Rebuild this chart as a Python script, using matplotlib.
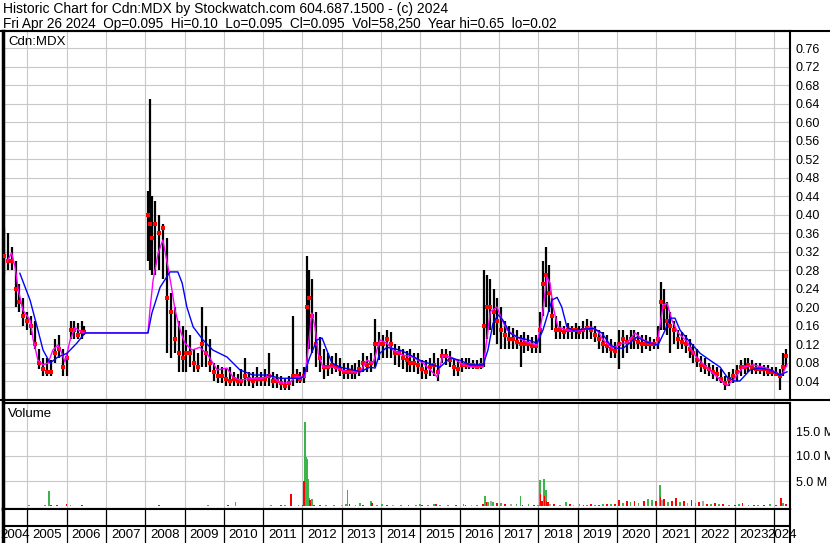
import matplotlib
matplotlib.use("Agg")
import matplotlib.pyplot as plt
from matplotlib.lines import Line2D

plt.rcParams['font.family'] = ['Liberation Sans', 'DejaVu Sans']

header1 = "Historic Chart for Cdn:MDX by Stockwatch.com 604.687.1500 - (c) 2024"
header2 = "Fri Apr 26 2024  Op=0.095  Hi=0.10  Lo=0.095  Cl=0.095  Vol=58,250  Year hi=0.65  lo=0.02"
symbol_label = "Cdn:MDX"
volume_label = "Volume"

# ---- price bars (fractional year, high, low, close) ----
price_dates = [
    2004.40, 2004.50, 2004.60, 2004.70, 2004.80, 2004.90, 2005.00, 2005.10, 2005.20, 2005.30,
    2005.40, 2005.50, 2005.60, 2005.70, 2005.80, 2005.90, 2006.00, 2006.10, 2006.20, 2006.30,
    2006.40, 2006.45,
    2008.08, 2008.12, 2008.18, 2008.25, 2008.35, 2008.45, 2008.55, 2008.65, 2008.75, 2008.85,
    2008.95, 2009.05, 2009.15, 2009.25, 2009.35, 2009.45, 2009.55, 2009.65, 2009.75, 2009.85,
    2009.95, 2010.05, 2010.15, 2010.25, 2010.35, 2010.45, 2010.55, 2010.65, 2010.75, 2010.85,
    2010.95, 2011.05, 2011.15, 2011.25, 2011.35, 2011.45, 2011.55, 2011.65, 2011.75, 2011.85,
    2011.95,
    2012.05, 2012.12, 2012.18, 2012.25, 2012.35, 2012.45, 2012.55, 2012.65, 2012.75, 2012.85,
    2012.95, 2013.05, 2013.15, 2013.25, 2013.35, 2013.45, 2013.55, 2013.65, 2013.75, 2013.85,
    2013.95, 2014.05, 2014.15, 2014.25, 2014.35, 2014.45, 2014.55, 2014.65, 2014.75, 2014.85,
    2014.95, 2015.05, 2015.15, 2015.25, 2015.35, 2015.45, 2015.55, 2015.65, 2015.75, 2015.85,
    2015.95, 2016.05, 2016.15, 2016.25, 2016.35, 2016.45, 2016.55,
    2016.62, 2016.70, 2016.78, 2016.87, 2016.95, 2017.05, 2017.15, 2017.25, 2017.35, 2017.45,
    2017.55, 2017.65, 2017.75, 2017.85, 2017.95, 2018.05, 2018.12, 2018.20, 2018.28, 2018.36,
    2018.45, 2018.55, 2018.65, 2018.75, 2018.85, 2018.95, 2019.05, 2019.15, 2019.25, 2019.35,
    2019.45, 2019.55, 2019.65, 2019.75, 2019.85, 2019.95, 2020.05, 2020.15, 2020.25, 2020.35,
    2020.45, 2020.55, 2020.65, 2020.75, 2020.85, 2020.95, 2021.05, 2021.12, 2021.20, 2021.28,
    2021.36, 2021.45, 2021.55, 2021.65, 2021.75, 2021.85, 2021.95, 2022.05, 2022.15, 2022.25,
    2022.35, 2022.45, 2022.55, 2022.65, 2022.75, 2022.85, 2022.95, 2023.05, 2023.15, 2023.25,
    2023.35, 2023.45, 2023.55, 2023.65, 2023.75, 2023.85, 2023.95, 2024.05, 2024.15, 2024.23,
    2024.30,
]
price_high = [
    0.37, 0.36, 0.33, 0.30, 0.25, 0.22, 0.19, 0.18, 0.17, 0.11,
    0.09, 0.09, 0.085, 0.13, 0.14, 0.11, 0.10, 0.17, 0.17, 0.165,
    0.17, 0.16,
    0.45, 0.65, 0.44, 0.43, 0.40, 0.38, 0.35, 0.23, 0.20, 0.17,
    0.16, 0.15, 0.14, 0.11, 0.10, 0.20, 0.16, 0.13, 0.08, 0.075,
    0.07, 0.065, 0.07, 0.06, 0.055, 0.065, 0.09, 0.06, 0.06, 0.07,
    0.06, 0.065, 0.10, 0.06, 0.055, 0.05, 0.045, 0.05, 0.18, 0.065,
    0.06,
    0.07, 0.31, 0.28, 0.26, 0.19, 0.135, 0.11, 0.10, 0.095, 0.10,
    0.09, 0.08, 0.08, 0.075, 0.08, 0.085, 0.10, 0.095, 0.10, 0.175,
    0.145, 0.14, 0.15, 0.145, 0.12, 0.115, 0.11, 0.105, 0.11, 0.10,
    0.10, 0.085, 0.085, 0.09, 0.10, 0.09, 0.11, 0.11, 0.105, 0.09,
    0.085, 0.09, 0.09, 0.09, 0.085, 0.085, 0.09,
    0.28, 0.27, 0.26, 0.24, 0.22, 0.20, 0.17, 0.16, 0.155, 0.15,
    0.14, 0.145, 0.14, 0.135, 0.14, 0.19, 0.30, 0.33, 0.29, 0.22,
    0.18, 0.17, 0.16, 0.165, 0.16, 0.165, 0.16, 0.17, 0.175, 0.17,
    0.16, 0.15, 0.145, 0.14, 0.13, 0.125, 0.15, 0.15, 0.14, 0.15,
    0.15, 0.145, 0.14, 0.14, 0.135, 0.13, 0.16, 0.255, 0.24, 0.21,
    0.19, 0.17, 0.15, 0.145, 0.14, 0.13, 0.12, 0.11, 0.095, 0.09,
    0.08, 0.075, 0.07, 0.065, 0.05, 0.06, 0.065, 0.075, 0.085, 0.09,
    0.09, 0.085, 0.08, 0.08, 0.075, 0.075, 0.07, 0.07, 0.065, 0.10,
    0.11,
]
price_low = [
    0.27, 0.28, 0.28, 0.20, 0.19, 0.16, 0.15, 0.14, 0.11, 0.065,
    0.05, 0.05, 0.05, 0.08, 0.09, 0.05, 0.05, 0.13, 0.13, 0.13,
    0.13, 0.14,
    0.30, 0.28, 0.27, 0.27, 0.28, 0.26, 0.10, 0.09, 0.10, 0.06,
    0.06, 0.06, 0.07, 0.06, 0.06, 0.07, 0.07, 0.06, 0.04, 0.035,
    0.035, 0.03, 0.03, 0.03, 0.03, 0.03, 0.03, 0.03, 0.025, 0.03,
    0.03, 0.03, 0.03, 0.025, 0.025, 0.02, 0.02, 0.02, 0.03, 0.035,
    0.035,
    0.035, 0.06, 0.11, 0.10, 0.07, 0.06, 0.045, 0.05, 0.055, 0.06,
    0.05, 0.045, 0.045, 0.045, 0.045, 0.05, 0.06, 0.06, 0.06, 0.07,
    0.085, 0.09, 0.09, 0.09, 0.075, 0.07, 0.065, 0.06, 0.06, 0.06,
    0.055, 0.045, 0.045, 0.05, 0.05, 0.04, 0.08, 0.075, 0.07, 0.05,
    0.05, 0.06, 0.065, 0.065, 0.065, 0.065, 0.065,
    0.07, 0.13, 0.15, 0.14, 0.12, 0.11, 0.11, 0.11, 0.11, 0.11,
    0.07, 0.10, 0.105, 0.10, 0.10, 0.10, 0.18, 0.20, 0.19, 0.15,
    0.13, 0.13, 0.13, 0.13, 0.13, 0.13, 0.13, 0.13, 0.13, 0.13,
    0.125, 0.11, 0.10, 0.10, 0.09, 0.09, 0.065, 0.09, 0.10, 0.11,
    0.11, 0.11, 0.10, 0.11, 0.105, 0.11, 0.11, 0.15, 0.15, 0.14,
    0.10, 0.12, 0.11, 0.11, 0.10, 0.09, 0.08, 0.07, 0.06, 0.055,
    0.05, 0.045, 0.04, 0.035, 0.02, 0.03, 0.035, 0.04, 0.05, 0.055,
    0.06, 0.055, 0.055, 0.055, 0.05, 0.05, 0.05, 0.05, 0.02, 0.05,
    0.07,
]
price_close = [
    0.31, 0.30, 0.30, 0.24, 0.21, 0.18, 0.17, 0.16, 0.12, 0.08,
    0.065, 0.06, 0.06, 0.10, 0.11, 0.07, 0.09, 0.15, 0.15, 0.14,
    0.145, 0.145,
    0.40, 0.38, 0.35, 0.38, 0.36, 0.37, 0.22, 0.19, 0.13, 0.10,
    0.09, 0.10, 0.10, 0.08, 0.07, 0.12, 0.10, 0.08, 0.06, 0.05,
    0.05, 0.045, 0.04, 0.045, 0.04, 0.04, 0.05, 0.045, 0.04, 0.045,
    0.045, 0.045, 0.05, 0.04, 0.04, 0.035, 0.03, 0.035, 0.05, 0.05,
    0.045,
    0.05, 0.20, 0.22, 0.18, 0.12, 0.09, 0.07, 0.07, 0.075, 0.07,
    0.065, 0.06, 0.06, 0.06, 0.06, 0.065, 0.08, 0.075, 0.08, 0.12,
    0.12, 0.12, 0.13, 0.12, 0.10, 0.10, 0.09, 0.085, 0.08, 0.08,
    0.075, 0.065, 0.06, 0.07, 0.075, 0.06, 0.095, 0.095, 0.085, 0.07,
    0.065, 0.075, 0.075, 0.075, 0.075, 0.07, 0.075,
    0.16, 0.20, 0.20, 0.19, 0.17, 0.15, 0.14, 0.13, 0.13, 0.125,
    0.12, 0.12, 0.12, 0.115, 0.115, 0.15, 0.25, 0.27, 0.23, 0.18,
    0.15, 0.15, 0.145, 0.15, 0.15, 0.15, 0.145, 0.15, 0.155, 0.15,
    0.14, 0.13, 0.12, 0.115, 0.11, 0.105, 0.12, 0.13, 0.125, 0.13,
    0.13, 0.125, 0.12, 0.12, 0.12, 0.12, 0.13, 0.21, 0.20, 0.17,
    0.16, 0.15, 0.13, 0.125, 0.12, 0.11, 0.10, 0.085, 0.075, 0.07,
    0.065, 0.06, 0.055, 0.045, 0.035, 0.045, 0.05, 0.06, 0.07, 0.07,
    0.075, 0.07, 0.065, 0.065, 0.065, 0.06, 0.06, 0.055, 0.05, 0.07,
    0.095,
]

# ---- short moving average (magenta) ----
ma_short_dates = [
    2004.48, 2004.60, 2004.69, 2004.77, 2004.89, 2005.07, 2005.15, 2005.27, 2005.40, 2005.53,
    2005.65, 2005.78, 2005.88, 2005.96, 2006.09, 2006.21, 2006.39, 2006.47, 2008.07, 2008.12,
    2008.20, 2008.33, 2008.45, 2008.58, 2008.68, 2008.76, 2008.89, 2009.01, 2009.19, 2009.39,
    2009.60, 2009.83, 2010.08, 2010.23, 2010.41, 2010.74, 2011.00, 2011.18, 2011.43, 2011.68,
    2011.81, 2012.07, 2012.14, 2012.24, 2012.32, 2012.40, 2012.52, 2012.78, 2013.14, 2013.47,
    2013.64, 2013.80, 2013.97, 2014.15, 2014.31, 2014.56, 2014.81, 2015.07, 2015.43, 2015.58,
    2015.83, 2016.09, 2016.34, 2016.60, 2016.70, 2016.78, 2016.95, 2017.08, 2017.21, 2017.46,
    2017.72, 2017.97, 2018.10, 2018.22, 2018.30, 2018.38, 2018.50, 2018.73, 2019.14, 2019.32,
    2019.50, 2019.65, 2019.90, 2020.13, 2020.26, 2020.46, 2020.67, 2020.90, 2021.02, 2021.18,
    2021.28, 2021.40, 2021.56, 2021.79, 2021.95, 2022.10, 2022.30, 2022.55, 2022.80, 2022.96,
    2023.21, 2023.47, 2023.82, 2024.08, 2024.20, 2024.33,
]
ma_short_vals = [
    0.298, 0.317, 0.286, 0.237, 0.193, 0.172, 0.129, 0.085, 0.075, 0.079,
    0.107, 0.118, 0.100, 0.081, 0.129, 0.155, 0.146, 0.144, 0.144, 0.193,
    0.258, 0.317, 0.345, 0.286, 0.237, 0.193, 0.150, 0.122, 0.107, 0.113,
    0.096, 0.064, 0.068, 0.049, 0.042, 0.046, 0.046, 0.053, 0.036, 0.036,
    0.049, 0.049, 0.107, 0.187, 0.157, 0.100, 0.070, 0.070, 0.060, 0.060,
    0.085, 0.079, 0.129, 0.122, 0.107, 0.096, 0.092, 0.079, 0.049, 0.096,
    0.090, 0.075, 0.070, 0.070, 0.135, 0.190, 0.200, 0.172, 0.150, 0.135,
    0.124, 0.118, 0.178, 0.265, 0.252, 0.200, 0.157, 0.150, 0.150, 0.157,
    0.150, 0.129, 0.111, 0.122, 0.122, 0.144, 0.129, 0.122, 0.118, 0.205,
    0.208, 0.172, 0.144, 0.125, 0.100, 0.085, 0.068, 0.049, 0.030, 0.042,
    0.070, 0.075, 0.068, 0.057, 0.053, 0.075,
]

# ---- long moving average (blue) ----
ma_long_dates = [
    2004.81, 2005.07, 2005.25, 2005.40, 2005.58, 2005.78, 2006.01, 2006.26, 2006.47, 2008.07,
    2008.17, 2008.38, 2008.63, 2008.83, 2008.94, 2009.06, 2009.22, 2009.47, 2009.72, 2010.08,
    2010.41, 2010.74, 2011.10, 2011.43, 2011.94, 2012.02, 2012.19, 2012.37, 2012.50, 2012.62,
    2012.75, 2012.96, 2013.29, 2013.47, 2013.72, 2013.85, 2013.97, 2014.15, 2014.48, 2014.66,
    2014.99, 2015.32, 2015.50, 2015.76, 2016.01, 2016.26, 2016.60, 2016.72, 2016.85, 2016.98,
    2017.10, 2017.28, 2017.46, 2017.70, 2017.97, 2018.12, 2018.35, 2018.48, 2018.60, 2018.73,
    2018.88, 2019.39, 2019.62, 2019.83, 2020.00, 2020.16, 2020.51, 2020.77, 2021.05, 2021.23,
    2021.35, 2021.48, 2021.61, 2021.86, 2022.12, 2022.37, 2022.63, 2022.80, 2023.00, 2023.13,
    2023.39, 2023.64, 2023.90, 2024.15, 2024.33,
]
ma_long_vals = [
    0.273, 0.215, 0.157, 0.107, 0.079, 0.092, 0.100, 0.122, 0.144, 0.144,
    0.187, 0.243, 0.276, 0.276, 0.252, 0.200, 0.157, 0.129, 0.107, 0.092,
    0.064, 0.053, 0.053, 0.046, 0.046, 0.049, 0.092, 0.129, 0.133, 0.107,
    0.079, 0.070, 0.064, 0.060, 0.070, 0.068, 0.100, 0.113, 0.107, 0.100,
    0.085, 0.075, 0.070, 0.090, 0.085, 0.075, 0.075, 0.107, 0.165, 0.183,
    0.172, 0.144, 0.135, 0.130, 0.122, 0.150, 0.215, 0.221, 0.200, 0.157,
    0.150, 0.154, 0.144, 0.118, 0.111, 0.111, 0.135, 0.124, 0.118, 0.150,
    0.176, 0.176, 0.150, 0.124, 0.100, 0.085, 0.070, 0.049, 0.040, 0.040,
    0.064, 0.068, 0.064, 0.053, 0.060,
]

# ---- volume (millions of shares) ----
vol_dates = [
    2004.90, 2005.05, 2005.45, 2005.55, 2005.60, 2005.75, 2005.85, 2006.00, 2006.10, 2006.20,
    2006.40, 2008.36, 2009.60, 2010.10, 2010.30, 2010.50, 2010.80, 2011.00, 2011.20, 2011.45,
    2011.55, 2011.71, 2011.90, 2012.00, 2012.07, 2012.05, 2012.10, 2012.12, 2012.14, 2012.18,
    2012.19, 2012.25, 2012.30, 2012.45, 2012.60, 2012.80, 2013.00, 2013.10, 2013.15, 2013.20,
    2013.35, 2013.47, 2013.55, 2013.75, 2013.78, 2013.90, 2014.02, 2014.15, 2014.30, 2014.50,
    2014.70, 2014.90, 2015.00, 2015.05, 2015.20, 2015.35, 2015.40, 2015.50, 2015.70, 2015.90,
    2016.10, 2016.15, 2016.30, 2016.45, 2016.60, 2016.65, 2016.70, 2016.72, 2016.80, 2016.85,
    2016.95, 2017.05, 2017.15, 2017.30, 2017.45, 2017.55, 2017.60, 2017.75, 2017.90, 2018.00,
    2018.05, 2018.06, 2018.10, 2018.15, 2018.16, 2018.20, 2018.21, 2018.25, 2018.30, 2018.40,
    2018.55, 2018.70, 2018.80, 2018.90, 2019.05, 2019.15, 2019.25, 2019.35, 2019.45, 2019.55,
    2019.65, 2019.75, 2019.85, 2019.95, 2020.05, 2020.15, 2020.25, 2020.35, 2020.45, 2020.55,
    2020.70, 2020.80, 2020.90, 2021.00, 2021.10, 2021.11, 2021.15, 2021.20, 2021.30, 2021.40,
    2021.50, 2021.60, 2021.70, 2021.80, 2021.90, 2022.00, 2022.10, 2022.20, 2022.30, 2022.40,
    2022.50, 2022.60, 2022.70, 2022.85, 2023.00, 2023.10, 2023.20, 2023.35, 2023.50, 2023.60,
    2023.75, 2023.90, 2024.05, 2024.18, 2024.22, 2024.30,
]
vol_millions = [
    0.10, 0.15, 0.15, 3.10, 0.30, 0.30, 0.10, 0.35, 0.20, 0.10,
    0.15, 0.20, 0.15, 0.30, 0.90, 0.10, 0.10, 0.10, 0.15, 0.20,
    0.15, 2.40, 0.15, 0.20, 16.9, 5.00, 9.80, 9.50, 5.50, 1.60,
    1.20, 1.50, 0.30, 0.20, 0.20, 0.15, 0.20, 0.40, 3.20, 0.40,
    0.20, 0.65, 0.20, 1.00, 0.70, 0.30, 0.50, 0.30, 0.20, 0.15,
    0.20, 0.20, 0.50, 0.30, 0.30, 0.50, 0.40, 0.30, 0.20, 0.30,
    0.40, 0.30, 0.30, 0.30, 0.40, 2.10, 0.80, 0.90, 1.00, 0.90,
    0.70, 0.60, 0.50, 0.40, 0.50, 2.00, 0.30, 0.50, 0.30, 0.30,
    5.20, 2.40, 1.00, 5.40, 2.00, 3.30, 1.00, 0.80, 0.50, 0.50,
    0.30, 0.80, 0.40, 0.30, 0.40, 0.30, 0.20, 0.40, 0.30, 0.30,
    0.50, 0.40, 0.40, 0.50, 1.20, 0.60, 1.00, 0.80, 1.00, 0.60,
    1.10, 1.40, 1.20, 1.00, 4.30, 1.90, 1.20, 1.40, 0.90, 1.10,
    1.60, 0.80, 1.00, 0.60, 1.20, 0.60, 0.80, 1.00, 0.50, 0.40,
    0.60, 0.40, 0.40, 0.30, 0.30, 0.50, 0.60, 0.30, 0.30, 0.30,
    0.30, 0.40, 0.30, 1.60, 0.60, 0.50,
]
vol_colors = [
    "g", "g", "g", "g", "r", "r", "k", "r", "g", "g",
    "r", "r", "g", "r", "g", "g", "g", "g", "g", "r",
    "g", "r", "g", "r", "g", "r", "g", "g", "g", "g",
    "r", "g", "r", "r", "g", "g", "k", "g", "g", "r",
    "g", "g", "r", "g", "r", "g", "g", "r", "k", "g",
    "r", "g", "g", "r", "g", "g", "r", "g", "g", "r",
    "g", "r", "k", "g", "r", "g", "r", "g", "k", "g",
    "r", "g", "r", "k", "g", "g", "r", "g", "r", "g",
    "g", "r", "r", "g", "r", "g", "r", "r", "k", "r",
    "g", "g", "r", "k", "g", "r", "g", "r", "g", "r",
    "g", "r", "g", "r", "r", "g", "r", "g", "r", "g",
    "r", "g", "g", "r", "g", "r", "k", "r", "g", "r",
    "r", "g", "r", "k", "r", "g", "r", "k", "r", "g",
    "r", "g", "r", "g", "r", "g", "r", "g", "r", "g",
    "r", "g", "r", "r", "g", "r",
]

price_ticks = [0.04, 0.08, 0.12, 0.16, 0.20, 0.24, 0.28, 0.32, 0.36, 0.40,
               0.44, 0.48, 0.52, 0.56, 0.60, 0.64, 0.68, 0.72, 0.76]
vol_ticks = [5.0, 10.0, 15.0]
years = list(range(2004, 2025))

# ---------------- drawing ----------------
W, H = 830, 543
PX_PER_YEAR = 39.3
YEAR0 = 2004.305          # year at pixel x = 0
XL, XR = 3, 790
xmin = YEAR0 + XL / PX_PER_YEAR
xmax = YEAR0 + XR / PX_PER_YEAR

def fx(p):
    return p / W

def fy(p):
    return 1 - p / H

fig = plt.figure(figsize=(W / 100, H / 100), dpi=100)
fig.patch.set_facecolor("white")

grid_c = "#c8c8c8"
color_map = {"g": "#3cb44b", "r": "#ff0000", "k": "#a8a8a8"}

ax_p = fig.add_axes([fx(XL), fy(400), fx(XR) - fx(XL), fy(31) - fy(400)])
ax_v = fig.add_axes([fx(XL), fy(509), fx(XR) - fx(XL), fy(403) - fy(509)])
ax_b = fig.add_axes([fx(XL), fy(543), fx(XR) - fx(XL), fy(509) - fy(543)])

boundaries = [float(y) for y in years[1:]]

for ax in (ax_p, ax_v, ax_b):
    ax.set_xlim(xmin, xmax)
    for s in ax.spines.values():
        s.set_color("black")
        s.set_linewidth(1.5)
    ax.spines["left"].set_linewidth(2.5)
    ax.tick_params(axis="x", length=0, labelbottom=False)

# price panel
ax_p.set_ylim(-0.001, 0.797)
ax_p.set_xticks(boundaries)
ax_p.set_yticks(price_ticks)
ax_p.set_yticklabels([f"{v:.2f}" for v in price_ticks])
ax_p.yaxis.tick_right()
ax_p.tick_params(axis="y", length=0, pad=4, labelsize=9)
ax_p.grid(True, color=grid_c, linewidth=0.8)
ax_p.set_axisbelow(True)
ax_p.vlines(price_dates, price_low, price_high, color="black", linewidth=1.6, zorder=2)
ax_p.plot(price_dates, price_close, "s", color="#ff0000", markersize=2.4,
          markeredgewidth=0, zorder=3)
ax_p.plot(ma_short_dates, ma_short_vals, color="#ff00ff", linewidth=1.0, zorder=4)
ax_p.plot(ma_long_dates, ma_long_vals, color="#0000ff", linewidth=1.0, zorder=5)
ax_p.text(fx(8 - XL) / (fx(XR) - fx(XL)), 1 - 11 / 369, symbol_label, transform=ax_p.transAxes,
          fontsize=9.5, va="center", ha="left")

# volume panel
ax_v.set_ylim(-0.6, 20.6)
ax_v.set_xticks(boundaries)
ax_v.set_yticks(vol_ticks)
ax_v.set_yticklabels([f"{v:.1f} M" for v in vol_ticks])
ax_v.yaxis.tick_right()
ax_v.tick_params(axis="y", length=0, pad=4, labelsize=9)
ax_v.grid(True, color=grid_c, linewidth=0.8)
ax_v.set_axisbelow(True)
ax_v.bar(vol_dates, vol_millions, width=0.045, color=[color_map[c] for c in vol_colors],
         linewidth=0, zorder=2)
ax_v.text(fx(8 - XL) / (fx(XR) - fx(XL)), 1 - 11 / 106, volume_label, transform=ax_v.transAxes,
          fontsize=9.5, va="center", ha="left")

# date rows
ax_b.set_ylim(0, 1)
ax_b.set_yticks([])
ax_b.spines["bottom"].set_visible(False)
ax_b.axhline(0.5, color="black", linewidth=1.5)
for b in boundaries:
    ax_b.axvline(b, color="black", linewidth=0.9)
for y in years:
    lo = max(y, xmin)
    hi = min(y + 1, xmax)
    ax_b.text((lo + hi) / 2, 0.25, str(y), ha="center", va="center", fontsize=9.5,
              clip_on=False)

# frame lines spanning the full width
fig.add_artist(Line2D([0, 1], [fy(30.5), fy(30.5)], color="black", linewidth=1.5))
fig.add_artist(Line2D([0, 1], [fy(400), fy(400)], color="black", linewidth=1.5))

# header
fig.text(fx(3), fy(9), header1, fontsize=10, va="center", ha="left")
fig.text(fx(3), fy(24), header2, fontsize=9.8, va="center", ha="left")

fig.savefig("out.png", dpi=100, facecolor="white")
